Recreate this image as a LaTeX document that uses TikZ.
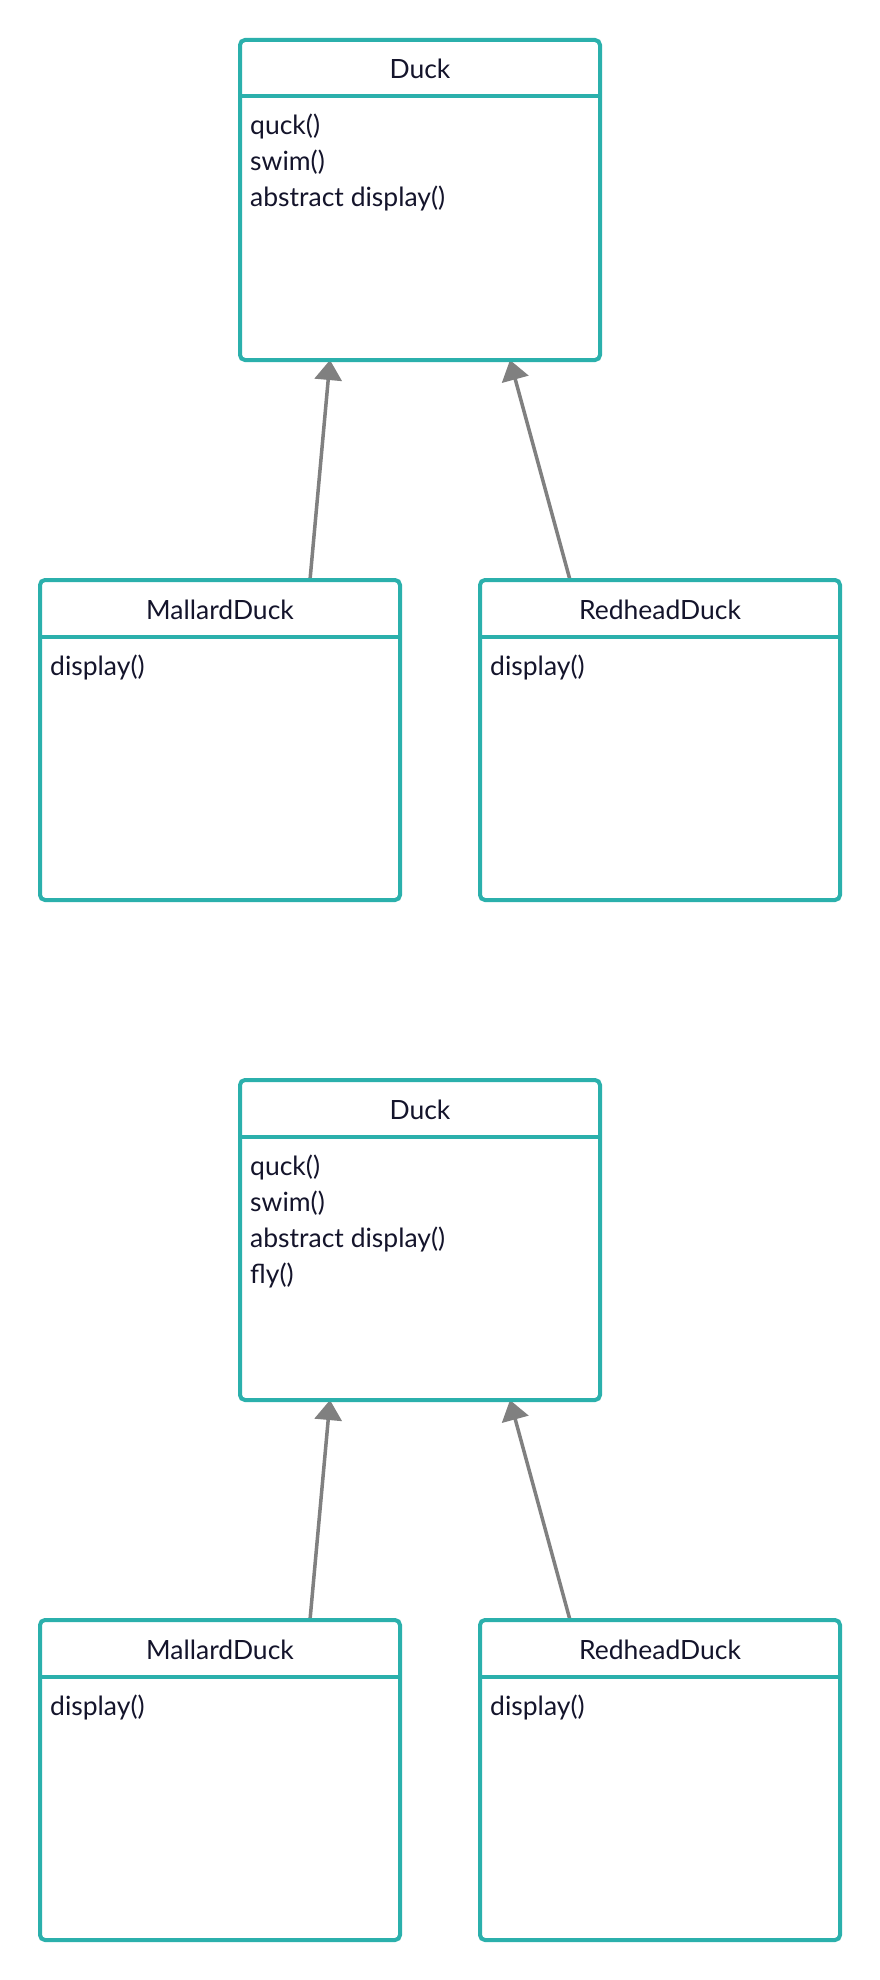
\documentclass[tikz,border=0pt]{standalone}
\usepackage{fontspec}
\setmainfont{Lato}
\usetikzlibrary{arrows.meta,calc,backgrounds}
\definecolor{tealline}{HTML}{2BB0AC}
\definecolor{ink}{HTML}{14142B}
\definecolor{arrowgray}{HTML}{808080}
\begin{document}
\begin{tikzpicture}[x=1pt,y=-1pt,
  classbox/.style={draw=tealline, line width=4pt, rounded corners=5pt, minimum width=360pt, minimum height=320pt, inner sep=0pt, outer sep=0pt, anchor=north west},
  sepline/.style={draw=tealline, line width=4pt},
  classtitle/.style={font=\fontsize{26.5}{30}\selectfont, text=ink, anchor=base, inner sep=0pt},
  member/.style={font=\fontsize{26.5}{30}\selectfont, text=ink, anchor=base west, inner sep=0pt},
  inherit/.style={draw=arrowgray, line width=3.5pt, -{Triangle[length=20pt,width=27pt]}}]
\useasboundingbox (0,0) rectangle (880,1980);

% ---------- upper diagram ----------
\node[classbox] (d1) at (240,40) {};
\draw[sepline] ($(d1.north west)+(0,56.5)$) -- ($(d1.north east)+(0,56.5)$);
\node[classtitle] (d1t) at ($(d1.north)+(0,39)$) {Duck};
\node[member] (d1a) at ($(d1.north west)+(10,95)$) {quck()};
\node[member] (d1b) at ($(d1.north west)+(10,131)$) {swim()};
\node[member] (d1c) at ($(d1.north west)+(10,167)$) {abstract display()};

\node[classbox] (m1) at (40,580) {};
\draw[sepline] ($(m1.north west)+(0,56.5)$) -- ($(m1.north east)+(0,56.5)$);
\node[classtitle] (m1t) at ($(m1.north)+(0,39)$) {MallardDuck};
\node[member] (m1a) at ($(m1.north west)+(10,95)$) {display()};

\node[classbox] (r1) at (480,580) {};
\draw[sepline] ($(r1.north west)+(0,56.5)$) -- ($(r1.north east)+(0,56.5)$);
\node[classtitle] (r1t) at ($(r1.north)+(0,39)$) {RedheadDuck};
\node[member] (r1a) at ($(r1.north west)+(10,95)$) {display()};

% ---------- lower diagram ----------
\node[classbox] (d2) at (240,1080) {};
\draw[sepline] ($(d2.north west)+(0,56.5)$) -- ($(d2.north east)+(0,56.5)$);
\node[classtitle] (d2t) at ($(d2.north)+(0,39)$) {Duck};
\node[member] (d2a) at ($(d2.north west)+(10,95)$) {quck()};
\node[member] (d2b) at ($(d2.north west)+(10,131)$) {swim()};
\node[member] (d2c) at ($(d2.north west)+(10,167)$) {abstract display()};
\node[member] (d2d) at ($(d2.north west)+(10,203)$) {fly()};

\node[classbox] (m2) at (40,1620) {};
\draw[sepline] ($(m2.north west)+(0,56.5)$) -- ($(m2.north east)+(0,56.5)$);
\node[classtitle] (m2t) at ($(m2.north)+(0,39)$) {MallardDuck};
\node[member] (m2a) at ($(m2.north west)+(10,95)$) {display()};

\node[classbox] (r2) at (480,1620) {};
\draw[sepline] ($(r2.north west)+(0,56.5)$) -- ($(r2.north east)+(0,56.5)$);
\node[classtitle] (r2t) at ($(r2.north)+(0,39)$) {RedheadDuck};
\node[member] (r2a) at ($(r2.north west)+(10,95)$) {display()};

\begin{scope}[on background layer]
\fill[white] (0,0) rectangle (880,1980);
\draw[inherit] ($(m1.north west)!0.75!(m1.north east)$) -- ($(d1.south west)!0.25!(d1.south east)$);
\draw[inherit] ($(r1.north west)!0.25!(r1.north east)$) -- ($(d1.south west)!0.75!(d1.south east)$);
\draw[inherit] ($(m2.north west)!0.75!(m2.north east)$) -- ($(d2.south west)!0.25!(d2.south east)$);
\draw[inherit] ($(r2.north west)!0.25!(r2.north east)$) -- ($(d2.south west)!0.75!(d2.south east)$);
\end{scope}
\end{tikzpicture}
\end{document}
